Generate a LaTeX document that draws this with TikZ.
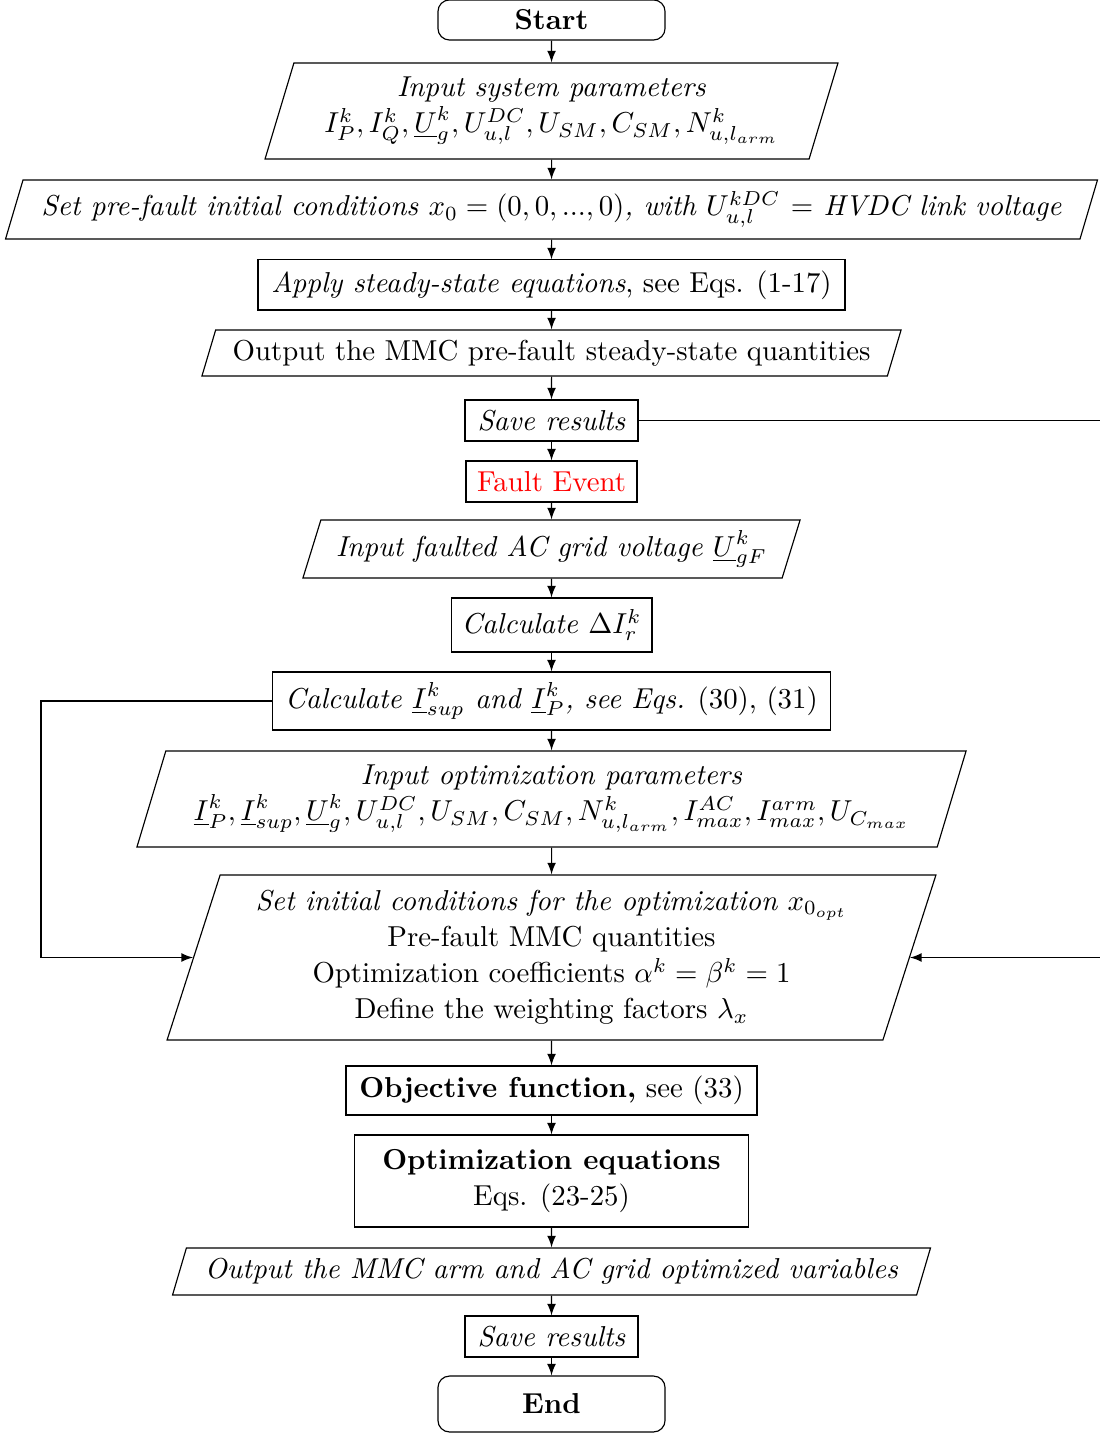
\documentclass[tikz,border=0pt]{standalone}
\usepackage{xcolor}
\usepackage{amsmath}
\usepackage{tikz}
\usetikzlibrary{shapes,arrows,calc}

\definecolor{faultRed}{RGB}{255, 0, 0}

\tikzset{
  termbox/.style={draw, rounded corners=4pt, align=center, font=\bfseries, inner sep=3pt},
  procbox/.style={draw, rectangle, align=center, inner sep=3pt},
  iobox/.style={draw, trapezium, trapezium left angle=70, trapezium right angle=110,
    trapezium stretches body, align=center, inner sep=2pt},
  flow/.style={-latex},
}

\begin{document}
\begin{tikzpicture}[x=0.347pt, y=-0.347pt]
  \useasboundingbox (0,0) rectangle (1100,1435);

  % main chain
  \node[termbox, minimum width=78.8pt, minimum height=13.9pt] (start) at (551.5,20) {Start};
  \node[iobox, minimum width=198.8pt, minimum height=33.3pt] (insys) at (551.5,111) {
    \textit{Input system parameters}\\[0.5pt]
    $I_P^k, I_Q^k, \underline{U}_g^k, U_{u,l}^{DC}{}, U_{SM}, C_{SM}, N_{u,l_{arm}}^k$};
  \node[iobox, minimum width=378.9pt, minimum height=20.5pt] (prefault) at (551.5,209.5) {
    \textit{Set pre-fault initial conditions $x_0=(0,0,...,0)$, with $U_{u,l}^{kDC}$ $=$ HVDC link voltage}};
  \node[procbox, minimum width=203.7pt, minimum height=17.4pt] (apply) at (551.5,285) {
    \textit{Apply steady-state equations}, see Eqs. (1-17)};
  \node[iobox, minimum width=242.6pt, minimum height=16pt] (outpre) at (551.5,353) {
    Output the MMC pre-fault steady-state quantities};
  \node[procbox, minimum width=60pt, minimum height=14.2pt] (save1) at (551.5,420.5) {\textit{Save results}};
  \node[procbox, minimum width=59.3pt, minimum height=14.2pt, text=faultRed] (fault) at (551.5,481.5) {Fault Event};
  \node[iobox, minimum width=172.5pt, minimum height=20.1pt] (infault) at (551.5,549) {
    \textit{Input faulted AC grid voltage $\underline{U}_{gF}^k$}};
  \node[procbox, minimum width=69.7pt, minimum height=18.7pt] (calcdi) at (551.5,625) {
    \textit{Calculate $\Delta I_r^k$}};
  \node[procbox, minimum width=193.6pt, minimum height=20.1pt] (calcsup) at (551.5,701) {
    \textit{Calculate $\underline{I}_{sup}^k$ and $\underline{I}_P^k$, see Eqs.} (30), (31)};
  \node[iobox, minimum width=287.7pt, minimum height=33.3pt] (inopt) at (551.5,799) {
    \textit{Input optimization parameters}\\[0.5pt]
    $\underline{I}_P^k, \underline{I}_{sup}^k, \underline{U}_g^k, U_{u,l}^{DC}{}, U_{SM}, C_{SM}, N_{u,l_{arm}}^k, I_{max}^{AC}, I_{max}^{arm}, U_{C_{max}}$};
  \node[iobox, minimum width=266.8pt, minimum height=57.3pt] (init) at (551.5,957.5) {
    \textit{Set initial conditions for the optimization $x_{0_{opt}}$}\\[0.5pt]
    Pre-fault MMC quantities\\[0.5pt]
    Optimization coefficients $\alpha^k=\beta^k=1$\\[0.5pt]
    Define the weighting factors $\lambda_x$};
  \node[procbox, minimum width=142.6pt, minimum height=17pt] (objective) at (551.5,1090.5) {
    \textbf{Objective function,} see (33)};
  \node[procbox, minimum width=137pt, minimum height=31.9pt] (opteq) at (551.5,1181) {
    \textbf{Optimization equations}\\[0.5pt] Eqs. (23-25)};
  \node[iobox, minimum width=263pt, minimum height=16.3pt] (outmmc) at (551.5,1271.5) {
    \textit{Output the MMC arm and AC grid optimized variables}};
  \node[procbox, minimum width=60pt, minimum height=14.2pt] (save2) at (551.5,1336.5) {\textit{Save results}};
  \node[termbox, minimum width=78.8pt, minimum height=19.4pt] (end) at (551.5,1404) {End};

  % straight flow
  \foreach \a/\b in {start/insys, insys/prefault, prefault/apply, apply/outpre, outpre/save1,
      save1/fault, fault/infault, infault/calcdi, calcdi/calcsup, calcsup/inopt, inopt/init,
      init/objective, objective/opteq, opteq/outmmc, outmmc/save2, save2/end}
    \draw[flow] (\a) -- (\b);

  % loops back into the optimization set-up
  \coordinate (lcorner) at (41,701);
  \coordinate (rcorner) at (1103,420.5);
  \draw[flow] (calcsup.west) -- (lcorner) |- (init.left side);
  \draw[flow] (save1.east) -- (rcorner) |- (init.right side);
\end{tikzpicture}
\end{document}
